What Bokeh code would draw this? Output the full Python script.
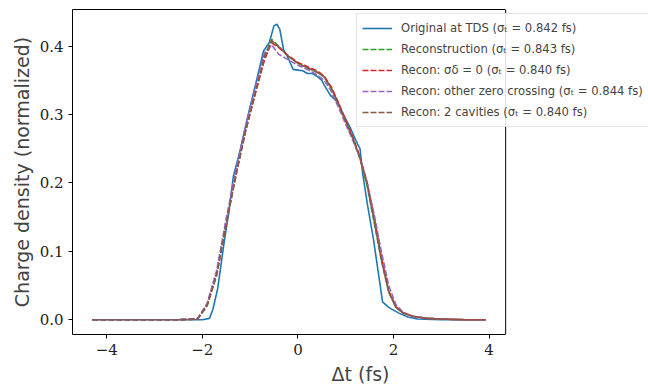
from bokeh.plotting import figure
from bokeh.models import Legend, LegendItem, FixedTicker, PrintfTickFormatter, LinearAxis, Span
from bokeh.embed import file_html
from bokeh.resources import INLINE

# Original at TDS
x_orig = [-4.3, -3.0, -2.0, -1.85, -1.78, -1.68, -1.55, -1.45, -1.35, -1.2, -1.06, -0.9,
          -0.78, -0.72, -0.6, -0.5, -0.44, -0.38, -0.3, -0.2, -0.1, 0.0, 0.1, 0.2, 0.3,
          0.4, 0.5, 0.55, 0.68, 0.82, 0.95, 1.1, 1.24, 1.3, 1.35, 1.45, 1.58, 1.7, 1.77,
          1.9, 2.1, 2.3, 2.5, 3.0, 3.93]
y_orig = [0.0, 0.0, 0.0, 0.002, 0.015, 0.045, 0.11, 0.155, 0.21, 0.25, 0.294, 0.34,
          0.375, 0.393, 0.405, 0.43, 0.432, 0.425, 0.395, 0.382, 0.366, 0.365, 0.364,
          0.36, 0.36, 0.356, 0.35, 0.343, 0.328, 0.319, 0.30, 0.28, 0.258, 0.25, 0.216,
          0.17, 0.118, 0.06, 0.026, 0.018, 0.01, 0.004, 0.001, 0.0, 0.0]

# Reconstructions (shared time grid)
x_rec = [-4.3, -3.5, -2.5, -2.1, -1.9, -1.7, -1.5, -1.3, -1.1, -0.9, -0.7, -0.55, -0.4,
         -0.2, 0.0, 0.2, 0.4, 0.55, 0.7, 0.85, 1.0, 1.15, 1.3, 1.45, 1.6, 1.75, 1.9,
         2.05, 2.2, 2.4, 2.7, 3.0, 3.5, 3.93]
y_recon = [0.0, 0.0, 0.0, 0.001, 0.02, 0.065, 0.14, 0.21, 0.275, 0.33, 0.385, 0.41, 0.4,
           0.385, 0.375, 0.368, 0.362, 0.355, 0.338, 0.315, 0.29, 0.265, 0.235, 0.195,
           0.14, 0.085, 0.04, 0.018, 0.01, 0.005, 0.002, 0.001, 0.0, 0.0]
y_sigd0 = [0.0, 0.0, 0.0, 0.001, 0.022, 0.068, 0.142, 0.212, 0.276, 0.328, 0.38, 0.405,
           0.398, 0.386, 0.376, 0.37, 0.364, 0.356, 0.34, 0.317, 0.292, 0.267, 0.238,
           0.2, 0.148, 0.09, 0.042, 0.019, 0.01, 0.005, 0.002, 0.001, 0.0, 0.0]
y_zero = [0.0, 0.0, 0.0, 0.002, 0.024, 0.072, 0.148, 0.218, 0.282, 0.338, 0.39, 0.402,
          0.388, 0.38, 0.372, 0.366, 0.358, 0.35, 0.334, 0.31, 0.286, 0.262, 0.236,
          0.2, 0.152, 0.098, 0.05, 0.022, 0.011, 0.005, 0.002, 0.001, 0.0, 0.0]
y_2cav = [0.0, 0.0, 0.0, 0.001, 0.021, 0.066, 0.14, 0.21, 0.274, 0.33, 0.384, 0.408,
          0.399, 0.385, 0.375, 0.368, 0.362, 0.355, 0.338, 0.316, 0.29, 0.265, 0.236,
          0.197, 0.143, 0.087, 0.041, 0.018, 0.01, 0.005, 0.002, 0.001, 0.0, 0.0]

labels = [
    "Original at TDS (σₜ = 0.842 fs)",
    "Reconstruction (σₜ = 0.843 fs)",
    "Recon: σδ = 0 (σₜ = 0.840 fs)",
    "Recon: other zero crossing (σₜ = 0.844 fs)",
    "Recon: 2 cavities (σₜ = 0.840 fs)",
]
colors = ["#1f77b4", "#2ca02c", "#d62728", "#9467bd", "#8c564b"]

X0, X1 = -4.716, 4.346          # visible axes box (data units)
XEND = X0 + (648 - 72) / 47.8   # frame extends under the legend to the page edge

p = figure(width=648, height=387, output_backend="svg", toolbar_location=None,
           x_range=(X0, XEND), y_range=(-0.0216, 0.4536),
           min_border_left=72, min_border_right=0, min_border_top=9,
           min_border_bottom=53)
p.xgrid.visible = False
p.ygrid.visible = False
p.outline_line_color = None
p.background_fill_color = "white"
p.border_fill_color = "white"

r0 = p.line(x_orig, y_orig, line_color=colors[0], line_width=1.6)
rs = [r0]
for ys, c in zip([y_recon, y_sigd0, y_zero, y_2cav], colors[1:]):
    rs.append(p.line(x_rec, ys, line_color=c, line_width=1.6, line_dash="6 2"))

for ax in (p.xaxis[0], p.yaxis[0]):
    ax.axis_line_color = "black"
    ax.major_tick_out = 4
    ax.major_tick_in = 0
    ax.minor_tick_out = 0
    ax.minor_tick_in = 0
    ax.major_label_text_font = "DejaVu Serif"
    ax.major_label_text_font_size = "15px"
    ax.major_label_text_color = "#222222"
    ax.axis_label_text_font = "DejaVu Sans"
    ax.axis_label_text_font_style = "normal"
    ax.axis_label_text_font_size = "19px"

p.xaxis.bounds = (X0, X1)
p.xaxis.ticker = FixedTicker(ticks=[-4, -2, 0, 2, 4])
p.xaxis.major_label_overrides = {-4: "−4", -2: "−2", 0: "0", 2: "2", 4: "4"}
p.yaxis.ticker = FixedTicker(ticks=[0.0, 0.1, 0.2, 0.3, 0.4])
p.yaxis.formatter = PrintfTickFormatter(format="%.1f")
p.xaxis.axis_label = "Δt (fs)"
p.yaxis.axis_label = "Charge density (normalized)"
p.xaxis.major_label_standoff = 5
p.yaxis.major_label_standoff = 5
p.xaxis.axis_label_standoff = 5
p.yaxis.axis_label_standoff = 4

# top and right spines of the axes box
top = LinearAxis(bounds=(X0, X1), ticker=FixedTicker(ticks=[]),
                 major_label_text_font_size="0px", major_tick_out=0, major_tick_in=0,
                 minor_tick_out=0, minor_tick_in=0, axis_line_color="black")
p.add_layout(top, "above")
p.add_layout(Span(location=X1, dimension="height", line_color="black", line_width=1))

legend = Legend(items=[LegendItem(label=l, renderers=[r]) for l, r in zip(labels, rs)],
                location=(284, 207))
legend.label_text_font = "DejaVu Sans"
legend.label_text_font_size = "11.6px"
legend.label_height = 18
legend.glyph_height = 18
legend.glyph_width = 30
legend.spacing = 3
legend.padding = 5
legend.margin = 0
legend.label_standoff = 9
legend.border_line_color = "#cccccc"
legend.border_line_width = 1
legend.background_fill_alpha = 0.85
p.add_layout(legend, "center")

open("out.html", "w").write(file_html(p, INLINE))
